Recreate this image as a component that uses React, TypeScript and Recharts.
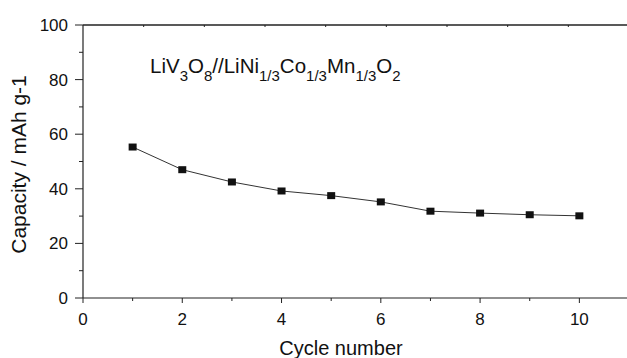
import { LineChart, Line, XAxis, YAxis, Label } from "recharts";

const cycles = [1, 2, 3, 4, 5, 6, 7, 8, 9, 10];
const capacity = [55.3, 47.0, 42.5, 39.2, 37.5, 35.2, 31.8, 31.1, 30.5, 30.1];

// every tick position; labelled ones are listed separately
const xTicks = [0, 1, 2, 3, 4, 5, 6, 7, 8, 9, 10];
const xLabelled = [0, 2, 4, 6, 8, 10];
const yTicks = [0, 10, 20, 30, 40, 50, 60, 70, 80, 90, 100];
const yLabelled = [0, 20, 40, 60, 80, 100];
const topTicks = [1, 2, 3, 4, 5, 6, 7, 8, 9];

const data = cycles.map((c, i) => ({ cycle: c, capacity: capacity[i] }));

const FONT = "'Liberation Sans', Arial, Helvetica, sans-serif";
const INK = "#111";
const AXIS = "#222";

const SquareDot = (props: any) => {
  const { cx, cy, index } = props;
  if (cx == null || cy == null) return null;
  return <rect key={index} x={cx - 4} y={cy - 3.5} width={8} height={7} fill={INK} />;
};

const BottomTick = (props: any) => {
  const { x, y, payload } = props;
  const major = xLabelled.includes(payload.value);
  return (
    <g>
      <line x1={x} y1={y} x2={x} y2={y + (major ? 5 : 3)} stroke={AXIS} />
      {major && (
        <text x={x} y={y + 15} dy="0.71em" textAnchor="middle" fontSize={17} fill={INK} fontFamily={FONT}>
          {payload.value}
        </text>
      )}
    </g>
  );
};

const LeftTick = (props: any) => {
  const { x, y, payload } = props;
  const major = yLabelled.includes(payload.value);
  return (
    <g>
      <line x1={x - (major ? 8 : 4)} y1={y} x2={x} y2={y} stroke={AXIS} />
      {major && (
        <text x={x - 15} y={y} dy="0.355em" textAnchor="end" fontSize={17} fill={INK} fontFamily={FONT}>
          {payload.value}
        </text>
      )}
    </g>
  );
};

const TopTick = (props: any) => {
  const { x, y } = props;
  return <line x1={x} y1={y} x2={x} y2={y + 2} stroke={AXIS} />;
};

export default function App() {
  return (
    <div style={{ position: "absolute", left: 0, top: 0, width: 627, height: 358, overflow: "hidden", background: "#fff" }}>
      <LineChart
        width={632}
        height={358}
        data={data}
        margin={{ top: 0, right: 3, bottom: 0, left: 0 }}
        style={{ fontFamily: FONT }}
      >
        <XAxis
          xAxisId="main"
          dataKey="cycle"
          type="number"
          domain={[0, 11]}
          ticks={xTicks}
          height={60}
          axisLine={{ stroke: AXIS, strokeWidth: 1.2 }}
          tickLine={false}
          tickSize={0}
          tickMargin={0}
          tick={BottomTick}
          interval={0}
        >
          <Label
            content={({ viewBox }: any) => (
              <text
                x={viewBox.x + 258}
                y={viewBox.y + 57}
                textAnchor="middle"
                fontSize={20}
                fill={INK}
                fontFamily={FONT}
              >
                Cycle number
              </text>
            )}
          />
        </XAxis>
        <XAxis
          xAxisId="top"
          orientation="top"
          type="number"
          domain={[0, 10]}
          ticks={topTicks}
          height={25}
          tickLine={false}
          tickSize={0}
          tickMargin={0}
          tick={TopTick}
          interval={0}
          axisLine={{ stroke: AXIS, strokeWidth: 1.5 }}
        />
        <YAxis
          yAxisId="main"
          type="number"
          domain={[0, 100]}
          ticks={yTicks}
          width={83}
          axisLine={{ stroke: AXIS, strokeWidth: 1.2 }}
          tickLine={false}
          tickSize={0}
          tickMargin={0}
          tick={LeftTick}
          interval={0}
        >
          <Label
            content={({ viewBox }: any) => {
              const x = 26;
              const y = viewBox.y + viewBox.height / 2 + 3;
              return (
                <text
                  x={x}
                  y={y}
                  transform={`rotate(-90, ${x}, ${y})`}
                  textAnchor="middle"
                  fontSize={21}
                  fill={INK}
                  fontFamily={FONT}
                >
                  Capacity / mAh g-1
                </text>
              );
            }}
          />
        </YAxis>
        <Line
          xAxisId="main"
          yAxisId="main"
          dataKey="capacity"
          stroke="#333"
          strokeWidth={1}
          dot={SquareDot}
          activeDot={false}
          isAnimationActive={false}
        />
        <text x={150} y={73} fontSize={20.5} fill={INK} fontFamily={FONT}>
          LiV
          <tspan fontSize={15} dy={8}>3</tspan>
          <tspan dy={-8}>O</tspan>
          <tspan fontSize={15} dy={8}>8</tspan>
          <tspan dy={-8}>//LiNi</tspan>
          <tspan fontSize={15} dy={8}>1/3</tspan>
          <tspan dy={-8}>Co</tspan>
          <tspan fontSize={15} dy={8}>1/3</tspan>
          <tspan dy={-8}>Mn</tspan>
          <tspan fontSize={15} dy={8}>1/3</tspan>
          <tspan dy={-8}>O</tspan>
          <tspan fontSize={15} dy={8}>2</tspan>
        </text>
      </LineChart>
    </div>
  );
}
